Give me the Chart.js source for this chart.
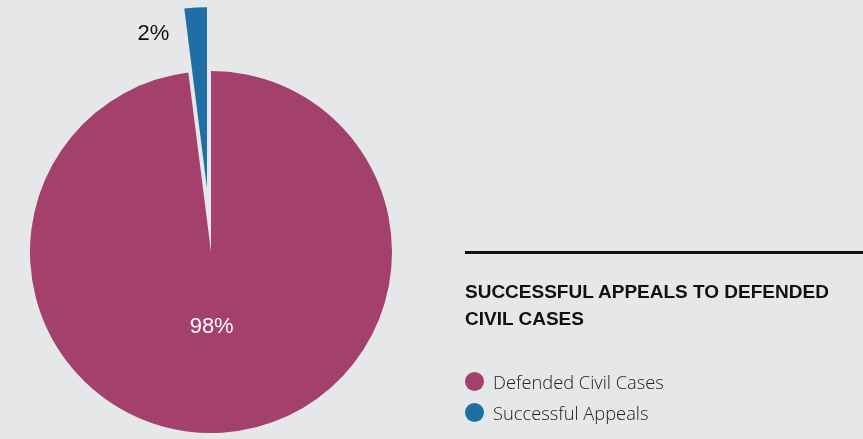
<!DOCTYPE html>
<html>
<head>
<meta charset="utf-8">
<script src="https://cdn.jsdelivr.net/npm/chart.js@4"></script>
<style>
    html, body {
        margin: 0;
        padding: 0;
        background: #e6e7e8;
    }
    #wrap {
        position: relative;
        width: 863px;
        height: 439px;
        overflow: hidden;
    }
    #pie {
        position: absolute;
        left: 0;
        top: 0;
    }
    #rule {
        position: absolute;
        left: 465px;
        top: 251px;
        width: 398px;
        height: 3px;
        background: #111;
    }
    #title {
        position: absolute;
        left: 465px;
        top: 278px;
        font-family: "Liberation Sans", Arial, sans-serif;
        font-weight: bold;
        font-size: 19px;
        line-height: 27px;
        color: #111;
    }
    #legend {
        position: absolute;
        left: 465px;
        top: 366px;
        font-family: "Open Sans", sans-serif;
        font-weight: 300;
        font-size: 18.3px;
        color: #222;
    }
    .item {
        height: 31px;
        display: flex;
        align-items: center;
    }
    .dot {
        width: 19px;
        height: 19px;
        border-radius: 50%;
        margin-right: 9px;
    }
</style>
</head>
<body>
<div id="wrap">
    <canvas id="pie" width="863" height="439"></canvas>
    <div id="rule"></div>
    <div id="title">SUCCESSFUL APPEALS TO DEFENDED<br>CIVIL CASES</div>
    <div id="legend"></div>
</div>
<script>
// Slices, clockwise from the top.
const LABELS = ['Defended Civil Cases', 'Successful Appeals'];
const VALUES = [98, 2];
const COLORS = ['#a3416c', '#1f6ea6'];
const LABEL_COLORS = ['#ffffff', '#111111'];

// How many pixels each slice is pulled out of the pie.
const OFFSETS = [0, 64];

// Chart.js' own arc offset also grows the radius of thin slices, so move the
// arc centre ourselves once the layout is done.
const explode = {
    id: 'explode',
    afterUpdate(chart) {
        chart.getDatasetMeta(0).data.forEach(function(arc, i) {
            const mid = (arc.startAngle + arc.endAngle) / 2;
            arc.x += Math.cos(mid) * OFFSETS[i];
            arc.y += Math.sin(mid) * OFFSETS[i];
        });
    }
};

// Draws the percentage next to each slice.  The big one goes inside, the small
// one sits next to its exploded tip.
const percentLabels = {
    id: 'percentLabels',
    afterDatasetsDraw(chart) {
        const ctx = chart.ctx;
        const total = VALUES.reduce((a, b) => a + b, 0);
        const arcs = chart.getDatasetMeta(0).data;
        ctx.save();
        ctx.font = '22px "Liberation Sans", Arial, sans-serif';
        ctx.textBaseline = 'middle';
        arcs.forEach(function(arc, i) {
            const mid = (arc.startAngle + arc.endAngle) / 2;
            const text = Math.round(VALUES[i] / total * 100) + '%';
            ctx.fillStyle = LABEL_COLORS[i];
            if (OFFSETS[i] === 0) {
                const r = arc.outerRadius * 0.41;
                ctx.textAlign = 'center';
                ctx.fillText(text, arc.x + Math.cos(mid) * r - 4, arc.y + Math.sin(mid) * r + 1);
            } else {
                const r = arc.outerRadius - 26;
                ctx.textAlign = 'right';
                ctx.fillText(text, arc.x + Math.cos(mid) * r - 28, arc.y + Math.sin(mid) * r + 1);
            }
        });
        ctx.restore();
    }
};

function buildLegend() {
    const legend = document.getElementById('legend');
    LABELS.forEach(function(label, i) {
        const item = document.createElement('div');
        item.className = 'item';
        const dot = document.createElement('span');
        dot.className = 'dot';
        dot.style.background = COLORS[i];
        const span = document.createElement('span');
        span.textContent = label;
        item.appendChild(dot);
        item.appendChild(span);
        legend.appendChild(item);
    });
}

new Chart(document.getElementById('pie').getContext('2d'), {
    type: 'pie',
    data: {
        labels: LABELS,
        datasets: [{
            data: VALUES,
            backgroundColor: COLORS,
            borderWidth: 0,
            clip: false,
        }]
    },
    options: {
        responsive: false,
        animation: false,
        devicePixelRatio: 1,
        radius: 181,
        layout: {
            // Puts the pie centre at (211, 252).
            padding: { left: 0, right: 441, top: 65, bottom: 0 },
        },
        plugins: {
            legend: { display: false },
            tooltip: { enabled: false },
        },
    },
    plugins: [explode, percentLabels],
});

buildLegend();
</script>
</body>
</html>
